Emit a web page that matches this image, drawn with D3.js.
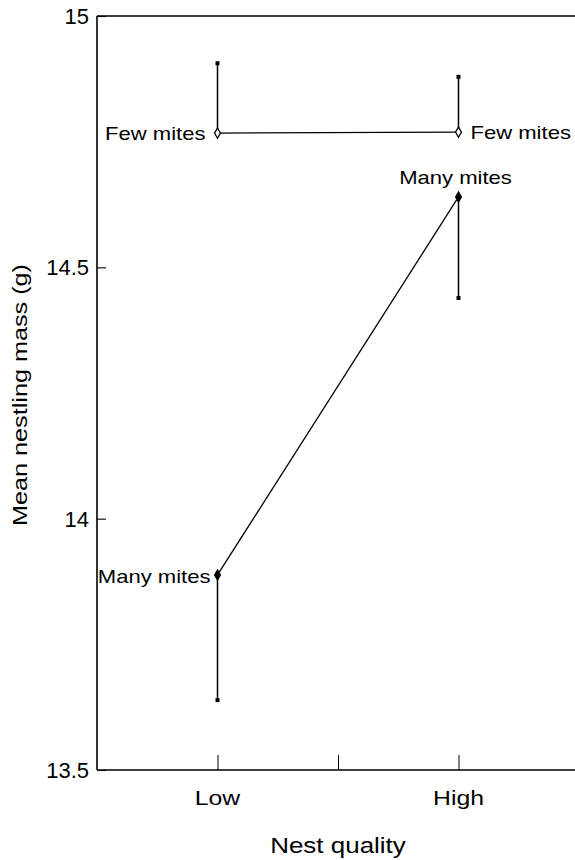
<!DOCTYPE html>
<html>
<head>
<meta charset="utf-8">
<script src="https://cdn.jsdelivr.net/npm/d3@7"></script>
<style>
  html, body { margin: 0; padding: 0; background: #fff; }
  svg { display: block; }
  text { font-family: "Liberation Sans", Arial, Helvetica, sans-serif; fill: #000; }
</style>
</head>
<body>
<div id="chart"></div>
<script>
// ---- data ----
const categories = ["Low", "High"];
const categoryPos = [1, 3];
const fewMean = [14.767, 14.769];
const fewUpper = [14.906, 14.879];
const manyMean = [13.888, 14.640];
const manyLower = [13.639, 14.439];
const yTicks = [13.5, 14, 14.5, 15];
const yTickLabels = ["13.5", "14", "14.5", "15"];
const xTicks = [1, 2, 3];
const seriesLabels = ["Few mites", "Many mites"];
const xTitle = "Nest quality";
const yTitle = "Mean nestling mass (g)";

// ---- layout ----
const W = 575, H = 860;
const svg = d3.select("#chart").append("svg").attr("width", W).attr("height", H);

const x = d3.scaleLinear().domain([0, 4]).range([97, 579]);
const y = d3.scaleLinear().domain([13.5, 15]).range([770, 16]);

const ink = "#000";

// stretch helper: widen text glyphs horizontally
function stretch(sel, factor) {
  sel.each(function () {
    const w = this.getComputedTextLength();
    d3.select(this).attr("textLength", w * factor).attr("lengthAdjust", "spacingAndGlyphs");
  });
  return sel;
}

// frame: left axis, bottom axis, top border
const left = x.range()[0];
svg.append("line").attr("x1", left).attr("x2", left).attr("y1", y(15)).attr("y2", y(13.5))
  .attr("stroke", ink).attr("stroke-width", 1.6);
svg.append("line").attr("x1", left).attr("x2", W).attr("y1", y(13.5)).attr("y2", y(13.5))
  .attr("stroke", ink).attr("stroke-width", 1.4);
svg.append("line").attr("x1", left).attr("x2", W).attr("y1", y(15)).attr("y2", y(15))
  .attr("stroke", ink).attr("stroke-width", 1.4);

// y axis ticks (inward) via d3 axis
const yAxis = d3.axisRight(y).tickValues(yTicks).tickSize(9).tickFormat(() => "");
const gy = svg.append("g").attr("transform", `translate(${left},0)`).call(yAxis);
gy.select(".domain").remove();
gy.selectAll(".tick line").attr("stroke", ink).attr("stroke-width", 1.1);

// y tick labels
svg.append("g").selectAll("text").data(yTicks).join("text")
  .attr("x", left - 8).attr("y", d => y(d) + 8)
  .attr("text-anchor", "end").attr("font-size", 22)
  .text((d, i) => yTickLabels[i]);

// x axis ticks (inward, upward)
const xAxis = d3.axisTop(x).tickValues(xTicks).tickSize(15).tickFormat(() => "");
const gx = svg.append("g").attr("transform", `translate(0,${y(13.5)})`).call(xAxis);
gx.select(".domain").remove();
gx.selectAll(".tick line").attr("stroke", ink).attr("stroke-width", 1);

// x category labels
svg.append("g").selectAll("text").data(categories).join("text")
  .attr("x", (d, i) => x(categoryPos[i])).attr("y", 805)
  .attr("text-anchor", "middle").attr("font-size", 21)
  .text(d => d)
  .call(stretch, 1.18);

// axis titles
svg.append("text").attr("x", x(2)).attr("y", 853).attr("text-anchor", "middle")
  .attr("font-size", 22).text(xTitle).call(stretch, 1.18);
svg.append("text").attr("transform", `translate(27,395) rotate(-90)`)
  .attr("text-anchor", "middle").attr("font-size", 21).text(yTitle).call(stretch, 1.2);

// ---- series ----
const line = d3.line().x(d => x(d[0])).y(d => y(d[1]));

// error bars
const errFew = categoryPos.map((p, i) => ({ p, a: fewMean[i], b: fewUpper[i] }));
const errMany = categoryPos.map((p, i) => ({ p, a: manyMean[i], b: manyLower[i] }));
[...errFew, ...errMany].forEach(e => {
  svg.append("line").attr("x1", x(e.p)).attr("x2", x(e.p)).attr("y1", y(e.a)).attr("y2", y(e.b))
    .attr("stroke", ink).attr("stroke-width", 1.5);
  svg.append("rect").attr("x", x(e.p) - 2).attr("y", y(e.b) - 2).attr("width", 4).attr("height", 4)
    .attr("fill", ink);
});

// connecting lines
svg.append("path").datum(categoryPos.map((p, i) => [p, fewMean[i]])).attr("d", line)
  .attr("fill", "none").attr("stroke", ink).attr("stroke-width", 1.3);
svg.append("path").datum(categoryPos.map((p, i) => [p, manyMean[i]])).attr("d", line)
  .attr("fill", "none").attr("stroke", ink).attr("stroke-width", 1.3);

// markers
const diamond = d3.symbol().type(d3.symbolDiamond).size(30);
svg.append("g").selectAll("path").data(categoryPos.map((p, i) => [p, fewMean[i]])).join("path")
  .attr("d", diamond).attr("transform", d => `translate(${x(d[0])},${y(d[1])})`)
  .attr("fill", "#fff").attr("stroke", ink).attr("stroke-width", 1.3);
svg.append("g").selectAll("path").data(categoryPos.map((p, i) => [p, manyMean[i]])).join("path")
  .attr("d", diamond).attr("transform", d => `translate(${x(d[0])},${y(d[1])})`)
  .attr("fill", ink).attr("stroke", ink).attr("stroke-width", 1.2);

// point labels
const lab = svg.append("g").attr("font-size", 19);
lab.append("text").attr("x", x(categoryPos[0]) - 12).attr("y", y(fewMean[0]) + 7)
  .attr("text-anchor", "end").text(seriesLabels[0]).call(stretch, 1.16);
lab.append("text").attr("x", x(categoryPos[1]) + 12).attr("y", y(fewMean[1]) + 7)
  .attr("text-anchor", "start").text(seriesLabels[0]).call(stretch, 1.16);
lab.append("text").attr("x", x(categoryPos[1]) - 3).attr("y", y(manyMean[1]) - 13)
  .attr("text-anchor", "middle").text(seriesLabels[1]).call(stretch, 1.16);
lab.append("text").attr("x", x(categoryPos[0]) - 7).attr("y", y(manyMean[0]) + 8)
  .attr("text-anchor", "end").text(seriesLabels[1]).call(stretch, 1.16);
</script>
</body>
</html>
